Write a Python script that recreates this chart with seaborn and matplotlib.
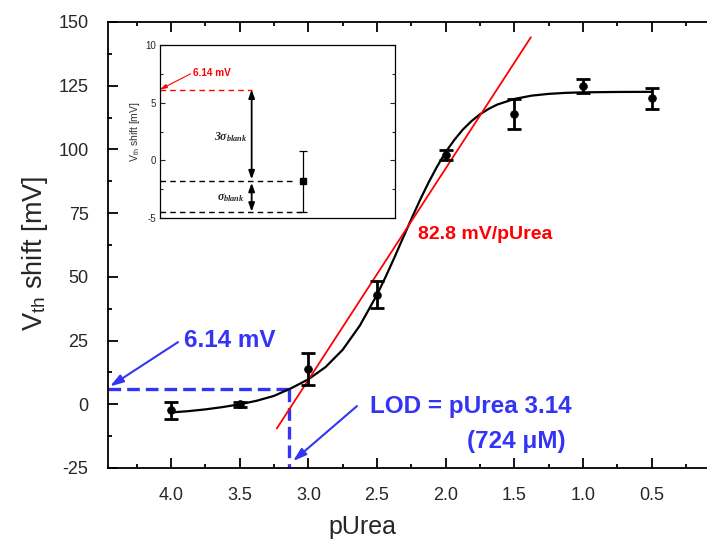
import matplotlib
matplotlib.use("Agg")
import matplotlib.pyplot as plt
from matplotlib.ticker import MultipleLocator
import seaborn as sns
import pandas as pd

# ---------------- data ----------------
pUrea = [4.0, 3.5, 3.0, 2.5, 2.0, 1.5, 1.0, 0.5]
vth_shift = [-2.3, 0.0, 13.8, 42.9, 97.8, 113.9, 124.9, 120.0]
vth_err = [3.3, 0.9, 6.3, 5.3, 2.0, 5.9, 2.6, 4.2]

# fitted curve
fit_p = [4.0, 3.875, 3.75, 3.625, 3.5, 3.375, 3.25, 3.125, 3.0, 2.875, 2.75,
         2.625, 2.5, 2.4375, 2.375, 2.3125, 2.25, 2.1875, 2.125, 2.0625, 2.0,
         1.9375, 1.875, 1.8125, 1.75, 1.6875, 1.625, 1.5, 1.375, 1.25, 1.125,
         1.0, 0.75, 0.5]
fit_v = [-3.2, -2.7, -2.0, -1.1, 0.0, 1.4, 3.3, 6.3, 9.8, 14.6, 21.4,
         30.9, 43.0, 50.0, 57.4, 65.1, 72.7, 80.1, 87.0, 93.3, 99.0,
         103.7, 107.8, 111.1, 113.8, 115.9, 117.6, 119.8, 121.1, 121.8, 122.2,
         122.4, 122.55, 122.6]

# linear-region fit (82.8 mV/pUrea)
slope_p = [3.23, 1.38]
slope_v = [-9.5, 144.0]

lod_p = 3.14
lod_v = 6.14

xtick_vals = [4.0, 3.5, 3.0, 2.5, 2.0, 1.5, 1.0, 0.5]
xtick_labels = ["4.0", "3.5", "3.0", "2.5", "2.0", "1.5", "1.0", "0.5"]
ytick_vals = [-25, 0, 25, 50, 75, 100, 125, 150]

# inset (blank)
blank_x = [0.61]
blank_mean = [-1.8]
blank_sd = [2.65]
inset_yticks = [-5, 0, 5, 10]

# ---------------- style ----------------
sns.set_style("ticks")
plt.rcParams["font.family"] = ["Liberation Sans", "DejaVu Sans"]
plt.rcParams["axes.unicode_minus"] = False
plt.rcParams["mathtext.fontset"] = "custom"
plt.rcParams["mathtext.rm"] = "Liberation Serif:bold:italic"
plt.rcParams["mathtext.it"] = "Liberation Serif:bold:italic"
plt.rcParams["mathtext.bf"] = "Liberation Serif:bold:italic"

BLUE = "#3434f4"
RED = "#ff0000"

fig = plt.figure(figsize=(7.07, 5.57), dpi=100)
ax = fig.add_axes([108 / 707, (557 - 468) / 557, (707 - 108) / 707, 446 / 557])

df = pd.DataFrame({"pUrea": pUrea, "shift": vth_shift, "err": vth_err})
fit_df = pd.DataFrame({"p": fit_p, "v": fit_v})
lin_df = pd.DataFrame({"p": slope_p, "v": slope_v})

sns.lineplot(data=fit_df, x="p", y="v", ax=ax, color="black", lw=1.6,
             sort=False, estimator=None, zorder=3)
sns.lineplot(data=lin_df, x="p", y="v", ax=ax, color=RED, lw=1.3,
             sort=False, estimator=None, zorder=4)
ax.errorbar(df["pUrea"], df["shift"], yerr=df["err"], fmt="none", ecolor="black",
            elinewidth=2.0, capsize=5, capthick=2.0, zorder=5)
sns.scatterplot(data=df, x="pUrea", y="shift", ax=ax, color="black", s=32,
                edgecolor="black", zorder=6, legend=False)

# LOD dashed guides
ax.plot([4.46, lod_p], [lod_v, lod_v], ls="--", color=BLUE, lw=2.4, dashes=(3.8, 1.8), zorder=2)
ax.plot([lod_p, lod_p], [lod_v, -25], ls="--", color=BLUE, lw=2.4, dashes=(3.8, 1.8), zorder=2)

ax.annotate("", xy=(4.445, 7.0), xytext=(3.949, 24.4),
            arrowprops=dict(arrowstyle="-|>,head_length=0.8,head_width=0.25",
                            color=BLUE, lw=1.5, shrinkA=0, shrinkB=0))
ax.annotate("", xy=(3.112, -22.3), xytext=(2.646, -0.7),
            arrowprops=dict(arrowstyle="-|>,head_length=0.8,head_width=0.25",
                            color=BLUE, lw=1.5, shrinkA=0, shrinkB=0))

ax.text(3.905, 22.5, "6.14 mV", color=BLUE, fontsize=17.5, fontweight="bold",
        ha="left", va="baseline")
ax.text(2.551, -3.5, "LOD = pUrea 3.14", color=BLUE, fontsize=17.5, fontweight="bold",
        ha="left", va="baseline")
ax.text(1.845, -17.0, "(724 \u03bcM)", color=BLUE, fontsize=17.5, fontweight="bold",
        ha="left", va="baseline")
ax.text(2.202, 64.8, "82.8 mV/pUrea", color=RED, fontsize=14, fontweight="bold",
        ha="left", va="baseline")

ax.set_xlim(4.459, 0.0973)
ax.set_ylim(-25, 150)
ax.set_xticks(xtick_vals)
ax.set_xticklabels(xtick_labels)
ax.set_yticks(ytick_vals)
ax.xaxis.set_minor_locator(MultipleLocator(0.25))
ax.yaxis.set_minor_locator(MultipleLocator(12.5))
ax.tick_params(which="both", direction="in", top=True, right=False, width=1.3, color="black")
ax.tick_params(which="major", length=7, labelsize=13, pad=14)
ax.tick_params(which="minor", length=3)
ax.spines["right"].set_visible(False)
for s in ["left", "top", "bottom"]:
    ax.spines[s].set_linewidth(1.3)
    ax.spines[s].set_color("black")

ax.set_xlabel("pUrea", fontsize=18)
ax.set_ylabel(r"V$_{\mathregular{th}}$ shift [mV]", fontsize=19.5)
ax.xaxis.set_label_coords(0.424, -0.105)
ax.yaxis.set_label_coords(-0.097, 0.482)

# ---------------- inset ----------------
ins = fig.add_axes([160 / 707, (557 - 218) / 557, 235 / 707, 173 / 557])
ins.set_xlim(0, 1)
ins.set_ylim(-5, 10)
ins.errorbar(blank_x, blank_mean, yerr=blank_sd, fmt="s", color="black", ms=4,
             elinewidth=0.9, capsize=3, capthick=0.9, zorder=5)
lo = blank_mean[0] - blank_sd[0]
mean = blank_mean[0]
ins.plot([0, 0.565], [mean, mean], ls="--", color="black", lw=1.0, dashes=(4, 3))
ins.plot([0, 0.61], [lo, lo], ls="--", color="black", lw=1.0, dashes=(4, 3))
ins.plot([0, 0.39], [lod_v, lod_v], ls="--", color=RED, lw=1.0, dashes=(4, 3))

ins.annotate("", xy=(0.39, lod_v), xytext=(0.39, mean + 0.15),
             arrowprops=dict(arrowstyle="<|-|>,head_length=0.5,head_width=0.18",
                             color="black", lw=1.3, shrinkA=0, shrinkB=0))
ins.annotate("", xy=(0.39, mean - 0.15), xytext=(0.39, lo),
             arrowprops=dict(arrowstyle="<|-|>,head_length=0.5,head_width=0.18",
                             color="black", lw=1.3, shrinkA=0, shrinkB=0))
ins.text(0.3, 2.0, r"$3\sigma_{blank}$", fontsize=8.5, ha="center", va="center")
ins.text(0.3, -3.2, r"$\sigma_{blank}$", fontsize=8.5, ha="center", va="center")

ins.annotate("", xy=(0.0, lod_v), xytext=(0.13, 7.5),
             arrowprops=dict(arrowstyle="-|>,head_length=0.4,head_width=0.12",
                             color=RED, lw=0.8, shrinkA=0, shrinkB=0))
ins.text(0.14, 7.6, "6.14 mV", color=RED, fontsize=7.2, fontweight="bold",
         ha="left", va="center")

ins.set_xticks([])
ins.set_yticks(inset_yticks)
ins.yaxis.set_minor_locator(MultipleLocator(2.5))
ins.tick_params(which="both", direction="in", left=True, right=True, width=0.8)
ins.tick_params(which="major", length=3.5, labelsize=7, pad=3)
ins.tick_params(which="minor", length=2)
for s in ins.spines.values():
    s.set_linewidth(0.9)
    s.set_color("black")
ins.set_xlabel("")
ins.set_ylabel(r"V$_{\mathregular{th}}$ shift [mV]", fontsize=7.5, color="#333333")
ins.yaxis.set_label_coords(-0.075, 0.5)

fig.savefig("out.png", dpi=100)
